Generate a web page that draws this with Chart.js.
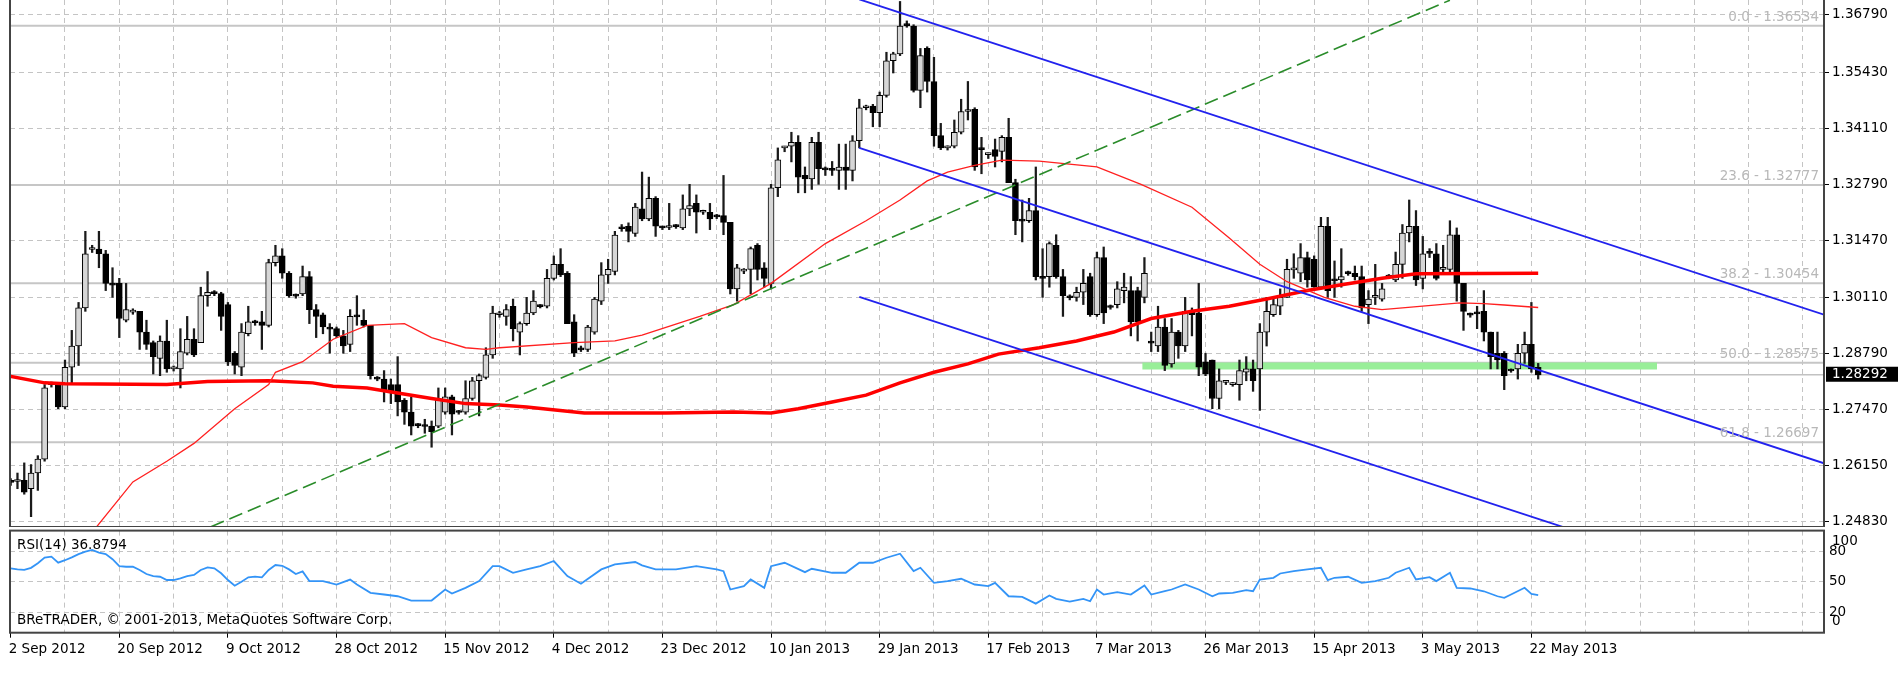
<!DOCTYPE html>
<html><head><meta charset="utf-8">
<script src="https://cdn.jsdelivr.net/npm/chart.js@4.4.0/dist/chart.umd.min.js"></script>
<style>
html,body{margin:0;padding:0;background:#fff;width:1900px;height:700px;overflow:hidden}
#c1{position:absolute;left:0;top:0}
#c2{position:absolute;left:0;top:527px}
</style></head><body>
<canvas id="c1" width="1900" height="527"></canvas>
<canvas id="c2" width="1900" height="173"></canvas>
<script>
// ---------- DATA ----------
const dateLabels = ['2 Sep 2012','20 Sep 2012','9 Oct 2012','28 Oct 2012','15 Nov 2012','4 Dec 2012','23 Dec 2012','10 Jan 2013','29 Jan 2013','17 Feb 2013','7 Mar 2013','26 Mar 2013','15 Apr 2013','3 May 2013','22 May 2013'];
const priceTicks = [1.24830,1.26150,1.27470,1.28790,1.30110,1.31470,1.32790,1.34110,1.35430,1.36790];
const rsiTicks = [0,20,50,80,100];

const opens = [
1.2576,1.2577,1.2580,1.2560,1.2597,1.2630,1.2806,1.2806,1.2753,1.2847,
1.2897,1.2987,1.3125,1.3126,1.3115,1.3045,1.3045,1.2958,1.2977,1.2979,
1.2930,1.2905,1.2868,1.2909,1.2843,1.2843,1.2880,1.2913,1.2905,1.3016,
1.3022,1.3021,1.2995,1.2880,1.2847,1.2926,1.2953,1.2954,1.2946,1.3094,
1.3110,1.3069,1.3016,1.3020,1.3061,1.2983,1.2971,1.2939,1.2938,1.2921,
1.2901,1.2967,1.2958,1.2946,1.2821,1.2819,1.2806,1.2806,1.2769,1.2741,
1.2710,1.2708,1.2708,1.2708,1.2741,1.2777,1.2741,1.2741,1.2773,1.2815,
1.2823,1.2876,1.2971,1.2967,1.2991,1.2930,1.2950,1.2975,1.2991,1.2991,
1.3057,1.3090,1.3069,1.2954,1.2889,1.2889,1.2930,1.3003,1.3065,1.3073,
1.3175,1.3180,1.3163,1.3221,1.3197,1.3246,1.3177,1.3177,1.3180,1.3176,
1.3221,1.3234,1.3213,1.3213,1.3203,1.3205,1.3189,1.3032,1.3074,1.3078,
1.3135,1.3082,1.3045,1.3271,1.3365,1.3369,1.3378,1.3300,1.3292,1.3378,
1.3314,1.3313,1.3312,1.3320,1.3312,1.3382,1.3460,1.3464,1.3448,1.3489,
1.3571,1.3587,1.3657,1.3653,1.3501,1.3600,1.3522,1.3394,1.3365,1.3369,
1.3402,1.3451,1.3456,1.3362,1.3349,1.3361,1.3357,1.3390,1.3283,1.3193,
1.3193,1.3217,1.3061,1.3061,1.3135,1.3061,1.3012,1.3012,1.3024,1.3061,
1.2971,1.3106,1.2989,1.2995,1.3028,1.3028,1.3028,1.3012,1.2905,1.2897,
1.2942,1.2855,1.2930,1.2897,1.2979,1.2975,1.2860,1.2864,1.2773,1.2811,
1.2806,1.2806,1.2835,1.2843,1.2843,1.2930,1.2971,1.2991,1.3012,1.3077,
1.3069,1.3106,1.3102,1.3036,1.3180,1.3053,1.3053,1.3069,1.3069,1.3061,
1.2995,1.3012,1.3008,1.3061,1.3053,1.3090,1.3164,1.3180,1.3057,1.3117,
1.3115,1.3078,1.3078,1.3160,1.3045,1.2971,1.2975,1.2979,1.2930,1.2880,
1.2880,1.2839,1.2843,1.2880,1.2901,1.2847];
const highs = [
1.2584,1.2597,1.2621,1.2617,1.2638,1.2806,1.2812,1.2810,1.2864,1.2934,
1.3000,1.3168,1.3135,1.3168,1.3123,1.3082,1.3057,1.3045,1.2985,1.2979,
1.2958,1.2909,1.2921,1.2958,1.2850,1.2938,1.2967,1.2938,1.3036,1.3073,
1.3028,1.3024,1.3000,1.2884,1.2950,1.2991,1.2958,1.2979,1.3102,1.3135,
1.3127,1.3073,1.3020,1.3086,1.3073,1.2995,1.2975,1.2950,1.2942,1.2934,
1.2983,1.3016,1.2983,1.2946,1.2825,1.2839,1.2819,1.2872,1.2773,1.2777,
1.2714,1.2724,1.2720,1.2798,1.2798,1.2781,1.2745,1.2815,1.2823,1.2831,
1.2893,1.2991,1.2979,1.2995,1.3008,1.2954,1.3012,1.3028,1.2995,1.3078,
1.3110,1.3127,1.3073,1.2971,1.2897,1.2946,1.3012,1.3094,1.3102,1.3168,
1.3184,1.3188,1.3234,1.3308,1.3296,1.3250,1.3180,1.3234,1.3184,1.3254,
1.3279,1.3254,1.3218,1.3234,1.3208,1.3300,1.3189,1.3090,1.3080,1.3131,
1.3139,1.3094,1.3279,1.3365,1.3369,1.3402,1.3394,1.3320,1.3390,1.3402,
1.3320,1.3333,1.3374,1.3374,1.3394,1.3480,1.3466,1.3468,1.3497,1.3591,
1.3591,1.3711,1.3665,1.3656,1.3600,1.3604,1.3579,1.3423,1.3370,1.3431,
1.3480,1.3522,1.3460,1.3390,1.3353,1.3386,1.3394,1.3435,1.3291,1.3242,
1.3246,1.3320,1.3127,1.3143,1.3160,1.3078,1.3018,1.3036,1.3078,1.3069,
1.3119,1.3131,1.2994,1.3049,1.3069,1.3061,1.3036,1.3106,1.2930,1.2991,
1.2962,1.2962,1.2934,1.3012,1.2987,1.3045,1.2880,1.2864,1.2843,1.2816,
1.2811,1.2864,1.2872,1.2864,1.2950,1.3012,1.3008,1.3032,1.3102,1.3115,
1.3139,1.3119,1.3110,1.3201,1.3201,1.3098,1.3127,1.3074,1.3086,1.3086,
1.3028,1.3090,1.3045,1.3066,1.3119,1.3184,1.3242,1.3217,1.3156,1.3127,
1.3139,1.3135,1.3193,1.3176,1.3045,1.2975,1.2991,1.3028,1.2930,1.2930,
1.2884,1.2843,1.2901,1.2930,1.3000,1.2856];
const lows = [
1.2568,1.2560,1.2547,1.2494,1.2556,1.2625,1.2800,1.2749,1.2749,1.2806,
1.2851,1.2979,1.3118,1.3082,1.3028,1.3012,1.2917,1.2954,1.2972,1.2889,
1.2889,1.2831,1.2827,1.2835,1.2838,1.2798,1.2876,1.2872,1.2905,1.2991,
1.3016,1.2934,1.2851,1.2831,1.2827,1.2921,1.2946,1.2889,1.2942,1.3086,
1.3057,1.3012,1.3010,1.3016,1.2950,1.2917,1.2926,1.2880,1.2917,1.2880,
1.2884,1.2946,1.2942,1.2819,1.2815,1.2765,1.2761,1.2732,1.2712,1.2687,
1.2704,1.2691,1.2658,1.2704,1.2736,1.2687,1.2736,1.2736,1.2769,1.2732,
1.2819,1.2868,1.2965,1.2946,1.2909,1.2876,1.2946,1.2971,1.2987,1.2987,
1.3053,1.3061,1.2950,1.2872,1.2884,1.2884,1.2925,1.2995,1.3045,1.3065,
1.3168,1.3143,1.3156,1.3193,1.3193,1.3156,1.3172,1.3172,1.3175,1.3172,
1.3205,1.3164,1.3208,1.3172,1.3198,1.3160,1.3020,1.3003,1.3068,1.3020,
1.3053,1.3036,1.3032,1.3250,1.3356,1.3332,1.3259,1.3259,1.3267,1.3279,
1.3300,1.3300,1.3267,1.3267,1.3287,1.3365,1.3455,1.3415,1.3415,1.3485,
1.3542,1.3583,1.3650,1.3497,1.3460,1.3497,1.3369,1.3361,1.3360,1.3365,
1.3398,1.3431,1.3312,1.3304,1.3340,1.3320,1.3332,1.3283,1.3160,1.3143,
1.3189,1.3053,1.3012,1.3036,1.3057,1.2967,1.3006,1.3003,1.2995,1.2967,
1.2967,1.2950,1.2984,1.2987,1.2999,1.2921,1.2909,1.2999,1.2884,1.2884,
1.2839,1.2847,1.2868,1.2884,1.2921,1.2827,1.2827,1.2749,1.2749,1.2806,
1.2802,1.2769,1.2815,1.2790,1.2745,1.2897,1.2967,1.2971,1.3012,1.3057,
1.3049,1.3036,1.3036,1.3032,1.3012,1.3012,1.3036,1.3064,1.3053,1.2979,
1.2950,1.2995,1.3003,1.3056,1.3049,1.3057,1.3143,1.3040,1.3032,1.3106,
1.3053,1.3070,1.3070,1.3003,1.2934,1.2965,1.2938,1.2909,1.2843,1.2843,
1.2794,1.2835,1.2819,1.2856,1.2835,1.2819];
const closes = [
1.2575,1.2578,1.2552,1.2597,1.2630,1.2798,1.2808,1.2753,1.2847,1.2897,
1.2987,1.3115,1.3127,1.3115,1.3045,1.3041,1.2962,1.2983,1.2979,1.2930,
1.2901,1.2872,1.2909,1.2843,1.2845,1.2884,1.2913,1.2876,1.3016,1.3024,
1.3021,1.2967,1.2860,1.2851,1.2930,1.2954,1.2952,1.2946,1.3094,1.3110,
1.3069,1.3016,1.3015,1.3061,1.2983,1.2967,1.2942,1.2937,1.2921,1.2897,
1.2967,1.2966,1.2946,1.2827,1.2819,1.2794,1.2786,1.2765,1.2741,1.2708,
1.2709,1.2707,1.2695,1.2773,1.2777,1.2736,1.2740,1.2773,1.2815,1.2827,
1.2876,1.2975,1.2972,1.2983,1.2938,1.2950,1.2975,1.3003,1.2990,1.3057,
1.3090,1.3065,1.2950,1.2880,1.2888,1.2942,1.3008,1.3065,1.3078,1.3159,
1.3174,1.3168,1.3225,1.3197,1.3246,1.3180,1.3176,1.3178,1.3179,1.3221,
1.3229,1.3213,1.3214,1.3197,1.3202,1.3189,1.3032,1.3082,1.3075,1.3127,
1.3078,1.3057,1.3271,1.3337,1.3366,1.3378,1.3296,1.3292,1.3378,1.3316,
1.3313,1.3312,1.3320,1.3312,1.3382,1.3460,1.3461,1.3448,1.3489,1.3571,
1.3587,1.3653,1.3654,1.3501,1.3583,1.3522,1.3394,1.3365,1.3366,1.3402,
1.3451,1.3452,1.3320,1.3361,1.3350,1.3345,1.3390,1.3283,1.3193,1.3192,
1.3217,1.3061,1.3057,1.3139,1.3061,1.3016,1.3011,1.3024,1.3045,1.2971,
1.3106,1.2975,1.2988,1.3032,1.3036,1.2954,1.2954,1.3069,1.2904,1.2942,
1.2851,1.2930,1.2897,1.2979,1.2971,1.2847,1.2831,1.2773,1.2815,1.2811,
1.2807,1.2839,1.2843,1.2815,1.2930,1.2979,1.2995,1.3012,1.3078,1.3078,
1.3106,1.3053,1.3036,1.3180,1.3028,1.3051,1.3061,1.3068,1.3061,1.2987,
1.3008,1.3013,1.3032,1.3060,1.3090,1.3164,1.3180,1.3053,1.3115,1.3116,
1.3057,1.3079,1.3160,1.3045,1.2979,1.2970,1.2973,1.2930,1.2872,1.2864,
1.2827,1.2838,1.2880,1.2901,1.2843,1.2829];

// moving averages, read at bar positions
const maFastBars = [11.5,18,23,27,33,38,39,43,47.5,52.5,58,62,67,70,72,83,89,93,101.5,106.5,112,120,126,131,135,138,142,146,151.5,160,166.5,174,179.5,184,188,193.5,198,202,205,213.5,217,220,225];
const maFastVals = [1.2447,1.2576,1.2625,1.2667,1.2749,1.2806,1.2835,1.2860,1.2913,1.2946,1.2950,1.2917,1.2893,1.2889,1.2893,1.2905,1.2909,1.2923,1.2967,1.2995,1.3045,1.3139,1.3193,1.3242,1.3287,1.3308,1.3324,1.3336,1.3334,1.3320,1.3279,1.3225,1.3152,1.3090,1.3049,1.3012,1.2991,1.2983,1.2987,1.2999,1.2997,1.2994,1.2988];
const maSlowBars = [-0.5,5,8,23,29,38,44.5,47.5,52.5,57,62,67,72,76,79.5,84.5,96.5,106.5,112,116,121,126,131,136,141,145.5,151.5,157,162.5,168,174,179.5,185,191,196.5,202,207,225];
const maSlowVals = [1.2827,1.2810,1.2808,1.2806,1.2813,1.2815,1.2810,1.2802,1.2798,1.2786,1.2773,1.2761,1.2758,1.2753,1.2747,1.2739,1.2739,1.2741,1.2739,1.2749,1.2765,1.2781,1.2810,1.2835,1.2855,1.2878,1.2893,1.2909,1.2930,1.2962,1.2979,1.2991,1.3008,1.3028,1.3043,1.3057,1.3068,1.3069];

// drawn objects
const trendBars = [29.5, 212];
const trendVals = [1.2470, 1.3714];
const channelBars = [125, 267.1];
const channelUpper = [1.3716, 1.2971];
const channelMiddle = [1.3365, 1.2620];
const channelLower = [1.3013, 1.2268];
const zoneBars = [166.7, 242.5];
const zoneVals = [1.2850, 1.2850];
const fibNames = ['0.0','23.6','38.2','50.0','61.8'];
const fibLevels = [1.36534,1.32777,1.30454,1.28575,1.26697];
const bidPrice = 1.28292;

// RSI(14)
const rsiBars = [0,1,2,3,4,5,6,7,8,9,10,11,12,13,14,15,16,17,18,19,20,21,22,23,24,25,26,27,28,29,30,31,32,33,34,35,36,37,38,39,40,41,42,
43,44,46,48,50,51,53,55,57,59,62,64,65,67,69,71,72,74,76,78,80,82,84,87,89,92,93,95,98,101,104,105,106,108,109,111,112,114,117,118,121,123,125,127,129,131,133,134,136,138,140,142,144,145,147,149,151,153,154,156,158,159,160,161,163,165,167,168,170,171,173,175,177,178,180,182,183,184,186,187,189,191,193,194,195,197,199,201,203,204,206,207,209,210,212,213,215,217,219,220,221,223,224,225];
const rsiValues = [63,62,61.5,63.5,68,73.5,74.5,68.6,71,73.8,77,79.3,81,78.4,77,72,65.3,64.6,64.6,61.4,57.5,55.5,54.8,51.6,51.6,53.3,55.5,56.5,61.4,64,63,58.2,51.6,46,50,54.2,55,54.2,61.4,66.3,65.5,62,57.5,
60,50.5,50.5,47.2,52,47.2,39,37.4,35.7,31.5,31.5,42.3,38.3,43.9,50.5,65.2,65.2,58.7,62,65.2,70.2,55.4,47.9,62,66.9,69.2,65.9,62,62,65.2,62,60.3,42.3,45.6,52.1,43.9,65.2,68.5,59.3,62.6,58.7,58.7,68.5,68.5,73.4,77.4,60.3,63.6,48.8,50.5,52.8,47.2,45.6,48.8,35.7,35.1,28.5,36.4,33.1,30.5,33.1,30.8,42.3,37.4,39.7,37.4,46.2,37.4,40.6,42.3,47.2,42.3,35.7,38.4,39,41.6,40.6,52.1,53.8,58,60.3,62,63.6,51.5,53.8,54.8,48.8,50.5,53.8,58.7,63.6,52.1,54.4,50.5,58.7,44,43.3,40.6,35.7,34.1,37.4,44,38,36.88];
const rsiTitle = 'RSI(14) 36.8794';
const copyright = 'BReTRADER, \u00A9 2001-2013, MetaQuotes Software Corp.';

// ---------- LAYOUT ----------
const X_MIN = -0.1, X_MAX = 267.1;
const Y_MIN = 1.246954, Y_MAX = 1.371443;
const GRID_STEP = 8, LABEL_STEP = 16;
const gridBars = []; for (let b = 0; b <= 264; b += GRID_STEP) gridBars.push(b);
const FONT = '"DejaVu Sans", sans-serif';
Chart.defaults.font.family = FONT;
Chart.defaults.font.size = 13.5;
Chart.defaults.color = '#000';

const pts = (xs, ys) => xs.map((x, i) => ({x, y: ys[i]}));
const lineDs = (data, color, width, order, extra) => Object.assign({type:'line', data, borderColor:color, borderWidth:width, pointRadius:0, tension:0, fill:false, order}, extra||{});
const noPad = ax => { ax.paddingTop = 0; ax.paddingBottom = 0; ax.paddingLeft = 0; ax.paddingRight = 0; };

const datasets = [];
fibLevels.forEach(lv => datasets.push(lineDs([{x:X_MIN,y:lv},{x:X_MAX,y:lv}], '#c6c6c6', 2, 20)));
datasets.push(lineDs([{x:X_MIN,y:bidPrice},{x:X_MAX,y:bidPrice}], '#c2c2c2', 1.5, 20));
datasets.push(lineDs(pts(zoneBars, zoneVals), '#98ee98', 7, 19, {borderCapStyle:'butt'}));
datasets.push({type:'bar', data: opens.map((o,i)=>({x:i, y:[lows[i], highs[i]]})), backgroundColor:'#1a1a1a', borderWidth:0, barThickness:1.6, grouped:false, order:12});
datasets.push({type:'bar', data: opens.map((o,i)=>({x:i, y:[Math.min(o,closes[i]), Math.max(o,closes[i])]})),
  backgroundColor: opens.map((o,i)=> closes[i] >= o ? '#d6d6d6' : '#000000'), borderColor:'#000', borderWidth:1, borderSkipped:false,
  barThickness:6, minBarLength:2, grouped:false, order:11});
datasets.push(lineDs(pts(maSlowBars, maSlowVals), '#ff0000', 3.5, 6));
datasets.push(lineDs(pts(maFastBars, maFastVals), '#ff2020', 1.3, 5));
datasets.push(lineDs(pts(trendBars, trendVals), '#2a8c2a', 1.6, 4, {borderDash:[14,6]}));
[channelUpper, channelMiddle, channelLower].forEach(c => datasets.push(lineDs(pts(channelBars, c), '#2222ee', 1.8, 3)));

const mainDecor = {
  id:'mainDecor',
  afterDraw(chart){
    const {ctx, chartArea:a, scales:{y}} = chart;
    ctx.save();
    ctx.strokeStyle = '#444'; ctx.lineWidth = 2;
    ctx.beginPath(); ctx.moveTo(a.left, 0); ctx.lineTo(a.left, a.bottom); ctx.lineTo(a.right, a.bottom); ctx.lineTo(a.right, 0); ctx.stroke();
    ctx.font = '13.5px ' + FONT; ctx.fillStyle = '#b8b8b8'; ctx.textAlign = 'right'; ctx.textBaseline = 'bottom';
    fibLevels.forEach((lv,k)=> ctx.fillText(fibNames[k] + ' - ' + lv.toFixed(5), a.right - 5, y.getPixelForValue(lv) - 2));
    const py = y.getPixelForValue(bidPrice);
    ctx.fillStyle = '#000'; ctx.fillRect(a.right + 2, py - 8, 72, 15);
    ctx.fillStyle = '#fff'; ctx.textAlign = 'left'; ctx.textBaseline = 'middle';
    ctx.fillText(bidPrice.toFixed(5), a.right + 8, py);
    ctx.restore();
  }
};

new Chart(document.getElementById('c1'), {
  type:'line',
  data:{datasets},
  options:{
    responsive:false, animation:false, devicePixelRatio:1,
    layout:{padding:{left:10, right:0, top:0, bottom:0}},
    plugins:{legend:{display:false}, tooltip:{enabled:false}},
    scales:{
      x:{type:'linear', min:X_MIN, max:X_MAX, offset:false,
        afterBuildTicks: ax => { ax.ticks = gridBars.map(v=>({value:v})); },
        afterFit: ax => { ax.height = 0; noPad(ax); },
        ticks:{display:false},
        grid:{color:'#c4c4c4', lineWidth:1, drawTicks:false, offset:false},
        border:{display:false, dash:[5,4]}},
      y:{position:'right', min:Y_MIN, max:Y_MAX, beginAtZero:false,
        afterBuildTicks: ax => { ax.ticks = priceTicks.map(v=>({value:v})); },
        afterFit: ax => { ax.width = 76; noPad(ax); },
        ticks:{callback: v => Number(v).toFixed(5), color:'#000', padding:3, font:{size:13.5}},
        grid:{color:'#c4c4c4', lineWidth:1, tickColor:'#000', tickLength:5},
        border:{display:false, dash:[5,4]}}
    }
  },
  plugins:[mainDecor]
});

const rsiDecor = {
  id:'rsiDecor',
  afterDraw(chart){
    const {ctx, chartArea:a, scales:{y}} = chart;
    ctx.save();
    ctx.strokeStyle = '#444'; ctx.lineWidth = 2;
    ctx.strokeRect(a.left, a.top, a.right - a.left, a.bottom - a.top);
    ctx.font = '13.5px ' + FONT; ctx.fillStyle = '#000'; ctx.textAlign = 'left'; ctx.textBaseline = 'middle';
    ctx.fillText(rsiTitle, a.left + 7, a.top + 14.5);
    ctx.fillText(copyright, a.left + 7, a.bottom - 12);
    ctx.fillText('100', a.right + 8, y.getPixelForValue(100) + 11);
    ctx.fillText('0', a.right + 8, y.getPixelForValue(0) - 11);
    ctx.restore();
  }
};

new Chart(document.getElementById('c2'), {
  type:'line',
  data:{datasets:[lineDs(pts(rsiBars, rsiValues), '#3394f7', 1.8, 1)]},
  options:{
    responsive:false, animation:false, devicePixelRatio:1,
    layout:{padding:{left:10, right:0, top:3.6, bottom:0}},
    plugins:{legend:{display:false}, tooltip:{enabled:false}},
    scales:{
      x:{type:'linear', min:X_MIN, max:X_MAX, offset:false,
        afterBuildTicks: ax => { ax.ticks = gridBars.map(v=>({value:v})); },
        afterFit: ax => { ax.height = 67.3; noPad(ax); },
        ticks:{autoSkip:false, maxRotation:0, minRotation:0, align:'start', padding:4, labelOffset:-2, color:'#000', font:{size:13.5},
          callback: v => (v % LABEL_STEP === 0 && v / LABEL_STEP < dateLabels.length) ? dateLabels[v / LABEL_STEP] : ''},
        grid:{color:'#c4c4c4', lineWidth:1, offset:false, tickLength:5,
          tickColor: c => (c.tick && c.tick.value % LABEL_STEP === 0 && c.tick.value / LABEL_STEP < dateLabels.length) ? '#000' : 'rgba(0,0,0,0)'},
        border:{display:false, dash:[5,4]}},
      y:{position:'right', min:0, max:100,
        afterBuildTicks: ax => { ax.ticks = rsiTicks.map(v=>({value:v})); },
        afterFit: ax => { ax.width = 76; noPad(ax); },
        ticks:{padding:4, color:'#000', font:{size:13.5}, callback: v => (v === 0 || v === 100) ? '' : String(v)},
        grid:{color:'#c4c4c4', lineWidth:1, tickLength:1, tickColor:'rgba(0,0,0,0)'},
        border:{display:false, dash:[5,4]}}
    }
  },
  plugins:[rsiDecor]
});
</script>
</body></html>
